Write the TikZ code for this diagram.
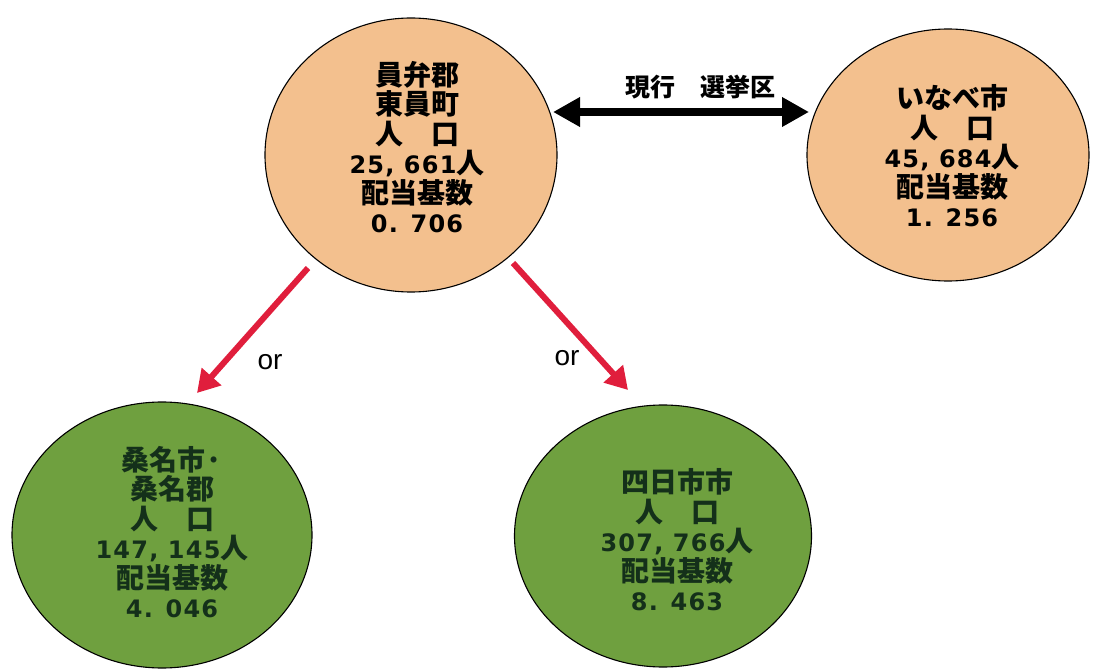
\documentclass[tikz,border=0pt]{standalone}
\usepackage{fontspec}
\usetikzlibrary{shapes.geometric,arrows.meta}
\newfontfamily\jpfont{Noto Sans CJK JP}
\newfontfamily\dgfont{DejaVu Sans}[LetterSpace=5]
\newfontfamily\latfont{Liberation Sans}
\definecolor{tanc}{HTML}{F3C08E}
\definecolor{grnc}{HTML}{6FA03F}
\definecolor{redc}{HTML}{E01E3C}
\definecolor{dgreen}{HTML}{14301A}
\newcommand{\dg}[1]{{\dgfont\bfseries\fontsize{24}{29.5}\selectfont #1}}
\begin{document}
\begin{tikzpicture}[x=1pt,y=-1pt,
  disc/.style={ellipse, draw=black, line width=1.1pt, inner sep=0pt},
  tanball/.style={disc, fill=tanc},
  grnball/.style={disc, fill=grnc},
  txt/.style={align=center, inner sep=0pt, font=\jpfont\bfseries\fontsize{28}{29.5}\selectfont},
  gtxt/.style={txt, text=dgreen},
  orlabel/.style={font=\latfont\fontsize{28}{30}\selectfont, inner sep=0pt},
  blackarrow/.style={line width=8pt, {Triangle[length=27pt,width=28pt]}-{Triangle[length=27pt,width=28pt]}},
  redarrow/.style={draw=redc, line width=6pt, -{Triangle[length=22pt,width=25pt]}}
]
\useasboundingbox (0,0) rectangle (1093,671);
\fill[white] (0,0) rectangle (1093,671);

% discs
\node[tanball, minimum width=292pt, minimum height=274pt] (c1) at (411,155) {};
\node[tanball, minimum width=282pt, minimum height=252pt] (c2) at (948,155) {};
\node[grnball, minimum width=300pt, minimum height=266pt] (c3) at (162,535) {};
\node[grnball, minimum width=297pt, minimum height=262pt] (c4) at (663,536) {};

% texts
\node[txt] (t1) at (417,147) {員弁郡\\東員町\\人　口\\\dg{25, 661}人\\配当基数\\\dg{0. 706}};
\node[txt] (t2) at (952,156) {いなべ市\\人　口\\\dg{45, 684}人\\配当基数\\\dg{1. 256}};
\node[gtxt] (t3) at (172,532) {桑名市·\\桑名郡\\人　口\\\dg{147, 145}人\\配当基数\\\dg{4. 046}};
\node[gtxt] (t4) at (677,540) {四日市市\\人　口\\\dg{307, 766}人\\配当基数\\\dg{8. 463}};

% black double arrow
\coordinate (a1) at (553,112);
\coordinate (a2) at (809,112);
\draw[blackarrow] (a1) -- (a2);
\node[txt, font=\jpfont\bfseries\fontsize{25}{28}\selectfont] (lab) at (700,87) {現行　選挙区};

% red arrows
\coordinate (r1s) at (308,268);
\coordinate (r1e) at (197,393);
\coordinate (r2s) at (513,263);
\coordinate (r2e) at (628,390);
\draw[redarrow] (r1s) -- (r1e);
\draw[redarrow] (r2s) -- (r2e);
\node[orlabel] (or1) at (270,362) {or};
\node[orlabel] (or2) at (567,358) {or};
\end{tikzpicture}
\end{document}
